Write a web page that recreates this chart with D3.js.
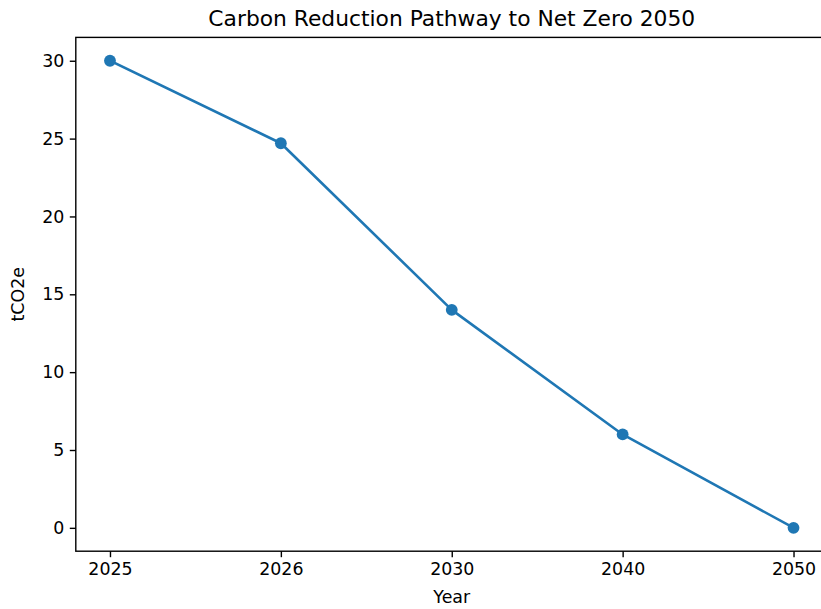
<!DOCTYPE html>
<html>
<head>
<meta charset="utf-8">
<script src="https://cdn.jsdelivr.net/npm/d3@7"></script>
<style>
  html, body { margin: 0; padding: 0; background: #fff; }
  svg { display: block; font-family: "DejaVu Sans", sans-serif; }
</style>
</head>
<body>
<svg id="chart" width="821" height="609"></svg>
<script>
const years = ["2025", "2026", "2030", "2040", "2050"];
const emissions = [30, 24.7, 14, 6, 0];
const yTicks = [0, 5, 10, 15, 20, 25, 30];
const title = "Carbon Reduction Pathway to Net Zero 2050";
const xLabel = "Year";
const yLabel = "tCO2e";

(function () {
const svg = d3.select("#chart");
const mL = 75.8, mR = 827.7, mT = 37.4, mB = 551.2;
const color = "#1f77b4";

const x = d3.scalePoint().domain(years).range([mL, mR]).padding(0.2);
const y = d3.scaleLinear().domain([-1.5, 31.5]).range([mB, mT]);

const tickLen = 6, tickPad = 5.5, fontSize = 17.4;

const gx = svg.append("g").attr("transform", `translate(0,${mB})`)
  .call(d3.axisBottom(x).tickSize(tickLen).tickSizeOuter(0).tickPadding(tickPad));
const gy = svg.append("g").attr("transform", `translate(${mL},0)`)
  .call(d3.axisLeft(y).tickValues(yTicks).tickFormat(d3.format("d")).tickSize(tickLen).tickSizeOuter(0).tickPadding(tickPad));

[gx, gy].forEach(g => {
  g.select(".domain").remove();
  g.selectAll(".tick line").attr("stroke", "#000").attr("stroke-width", 1.4);
  g.selectAll(".tick text").attr("fill", "#000").style("font-size", fontSize + "px")
    .style("font-family", "'DejaVu Sans', sans-serif");
});
gx.selectAll(".tick text").attr("dy", null).attr("y", tickLen + tickPad).attr("dominant-baseline", "hanging");

svg.append("rect").attr("x", mL).attr("y", mT).attr("width", mR - mL).attr("height", mB - mT)
  .attr("fill", "none").attr("stroke", "#000").attr("stroke-width", 1.4);

const line = d3.line().x((d, i) => x(years[i])).y(d => y(d));
svg.append("path").datum(emissions)
  .attr("d", line).attr("fill", "none").attr("stroke", color)
  .attr("stroke-width", 2.6).attr("stroke-linejoin", "round").attr("stroke-linecap", "square");

svg.append("g").selectAll("circle").data(emissions).join("circle")
  .attr("cx", (d, i) => x(years[i])).attr("cy", d => y(d))
  .attr("r", 5.9).attr("fill", color);

svg.append("text").attr("x", (mL + mR) / 2).attr("y", 26)
  .attr("text-anchor", "middle").style("font-size", "21.8px").attr("fill", "#000").text(title);

svg.append("text").attr("x", (mL + mR) / 2).attr("y", 603)
  .attr("text-anchor", "middle").style("font-size", fontSize + "px").attr("fill", "#000").text(xLabel);

svg.append("text").attr("transform", `translate(24,${(mT + mB) / 2}) rotate(-90)`)
  .attr("text-anchor", "middle").style("font-size", fontSize + "px").attr("fill", "#000").text(yLabel);
})();
</script>
</body>
</html>
